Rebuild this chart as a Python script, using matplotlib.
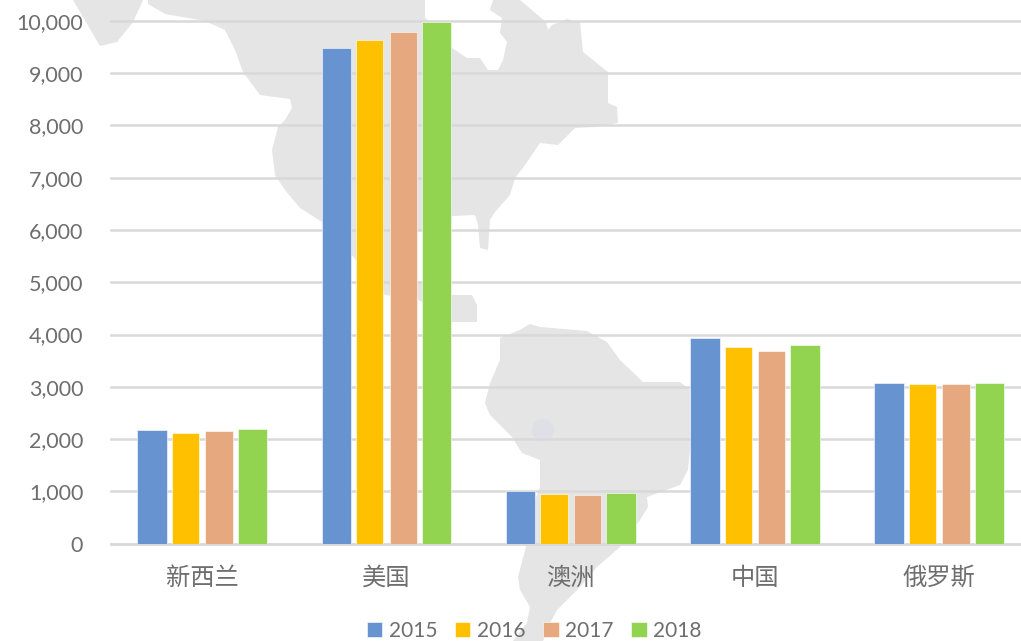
import matplotlib
matplotlib.use("Agg")
import matplotlib.pyplot as plt
from matplotlib.patches import Polygon, Circle
from matplotlib.ticker import FuncFormatter
import numpy as np

categories = ["新西兰", "美国", "澳洲", "中国", "俄罗斯"]
years = ["2015", "2016", "2017", "2018"]
v2015 = [2174, 9484, 1017, 3933, 3073]
v2016 = [2122, 9631, 950, 3761, 3054]
v2017 = [2148, 9784, 925, 3685, 3054]
v2018 = [2193, 9975, 970, 3805, 3073]
series = [v2015, v2016, v2017, v2018]
colors = ["#6794D1", "#FFC000", "#E6A87F", "#92D34F"]
widths = [0.160, 0.148, 0.148, 0.160]
offsets = [-0.272, -0.091, 0.091, 0.272]
yticks = list(range(0, 11000, 1000))

# decorative world-map backdrop, traced in pixel coordinates
america_n = [(148, 0), (148, 4), (165, 14), (205, 21), (225, 30), (235, 50), (243, 72), (260, 95),
             (290, 99), (292, 108), (285, 120), (278, 127), (272, 150), (275, 175), (285, 190),
             (300, 208), (322, 222), (350, 253), (385, 295), (417, 299), (452, 322), (477, 322),
             (477, 305), (472, 295), (452, 295), (412, 280), (410, 250), (417, 232), (430, 225),
             (452, 216), (475, 215), (478, 225), (480, 248), (488, 250), (490, 220), (495, 212),
             (510, 195), (515, 178), (525, 165), (540, 143), (558, 145), (575, 128), (595, 127),
             (618, 123), (617, 107), (608, 103), (608, 72), (583, 52), (580, 22), (567, 19),
             (552, 25), (548, 30), (546, 22), (533, 11), (520, 0), (493, 0), (490, 10), (502, 18),
             (500, 33), (507, 42), (503, 60), (498, 70), (488, 70), (480, 58), (467, 58), (452, 48),
             (440, 30), (425, 18), (425, 0)]
alaska = [(73, 0), (100, 46), (117, 42), (133, 22), (143, 0)]
america_s = [(485, 403), (490, 383), (500, 360), (500, 338), (520, 330), (530, 324), (540, 327),
             (587, 331), (607, 342), (620, 360), (643, 382), (680, 382), (690, 390), (690, 450),
             (688, 470), (680, 485), (647, 497), (648, 507), (640, 520), (620, 547), (597, 567),
             (580, 587), (557, 610), (550, 623), (543, 641), (513, 641), (527, 623), (530, 607),
             (520, 590), (518, 577), (527, 543), (535, 500), (540, 487), (540, 460), (522, 453),
             (512, 437), (490, 415)]

W, H = 1021, 641
fig = plt.figure(figsize=(W / 100, H / 100), dpi=100, facecolor="white")
bg = fig.add_axes([0, 0, 1, 1], zorder=0)
bg.set_xlim(0, W)
bg.set_ylim(H, 0)
bg.axis("off")
for poly in (america_n, alaska, america_s):
    bg.add_patch(Polygon(poly, closed=True, facecolor="#E5E5E5", edgecolor="none"))
bg.add_patch(Circle((543, 430), 11, facecolor="#DFDFE8", edgecolor="none"))

left, right, top, bottom = 111, 1021, 20.7, 543.7
ax = fig.add_axes([left / W, 1 - bottom / H, (right - left) / W, (bottom - top) / H], zorder=1)
ax.patch.set_alpha(0)
ax.set_xlim(-0.495, (1021 - 202.4) / 184.2)
ax.set_ylim(0, 10000)
x = np.arange(len(categories))
containers = []
for vals, c, w, off, yr in zip(series, colors, widths, offsets, years):
    containers.append(ax.bar(x + off, vals, width=w, color=c, label=yr, zorder=3,
                             edgecolor="white", linewidth=0.4))

ax.set_yticks(yticks)
ax.yaxis.set_major_formatter(FuncFormatter(lambda v, _: f"{int(v):,}"))
ax.set_xticks(x)
ax.set_xticklabels(categories, family=["Noto Sans CJK SC", "DejaVu Sans"], fontsize=17.5,
                   color="#6E6E6E", fontweight="light")
ax.tick_params(axis="both", length=0)
ax.tick_params(axis="x", pad=15)
ax.tick_params(axis="y", pad=20)
for t in ax.get_yticklabels():
    t.set_family("Lato")
    t.set_fontsize(15.5)
    t.set_color("#6E6E6E")
ax.grid(axis="y", color="#D9D9D9", linewidth=1.8, zorder=1, clip_on=False)
ax.set_axisbelow(True)
for s in ("top", "right", "left"):
    ax.spines[s].set_visible(False)
ax.spines["bottom"].set_color("#D9D9D9")
ax.spines["bottom"].set_linewidth(1.8)
for ln in ax.get_ygridlines():
    ln.set_clip_on(False)

leg = ax.legend(handles=containers, loc="center", bbox_to_anchor=(534 / W, 1 - 631 / H),
                bbox_transform=fig.transFigure, ncol=4, frameon=False, borderpad=0,
                handlelength=0.75, handleheight=0.75, handletextpad=0.3, columnspacing=0.85,
                prop={"family": "Lato", "size": 15})
for t in leg.get_texts():
    t.set_color("#6E6E6E")

fig.savefig("out.png", dpi=100, facecolor="white")
